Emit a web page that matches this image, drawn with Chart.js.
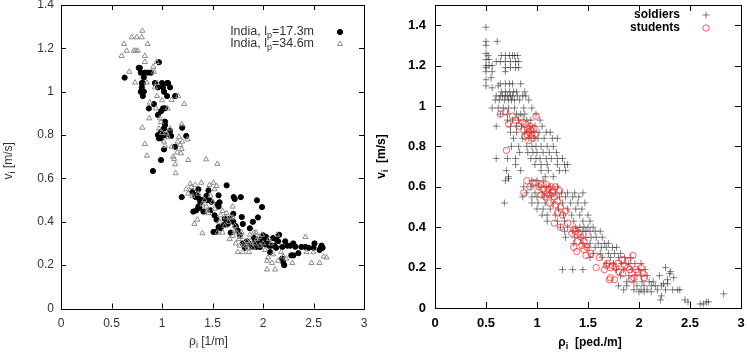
<!DOCTYPE html>
<html>
<head>
<meta charset="utf-8">
<script src="https://cdn.jsdelivr.net/npm/chart.js@4.4.1/dist/chart.umd.min.js"></script>
<style>
  body { margin: 0; background: #fff; }
  #wrap { position: relative; width: 747px; height: 354px; }
  canvas { position: absolute; top: 0; }
  #leftChart { left: 0; }
  #rightChart { left: 374px; }
</style>
</head>
<body>
<div id="wrap">
  <canvas id="leftChart" width="374" height="354"></canvas>
  <canvas id="rightChart" width="373" height="354"></canvas>
</div>
<script>
// tick labels
const leftXTicks = [0, 0.5, 1, 1.5, 2, 2.5, 3];
const leftYTicks = [0, 0.2, 0.4, 0.6, 0.8, 1, 1.2, 1.4];
const rightXTicks = [0, 0.5, 1, 1.5, 2, 2.5, 3];
const rightYTicks = [0, 0.2, 0.4, 0.6, 0.8, 1, 1.2, 1.4];

// left panel: India, lp=17.3m  [density 1/m, speed m/s]
const india17 = [
  [0.63,1.065],[0.97,1.136],[0.77,1.11],[0.78,1.11],[0.79,1.088],[0.83,1.088],[0.86,1.088],[0.89,1.088],
  [0.82,1.066],[0.80,1.04],[0.81,1.04],[0.80,1.02],[0.79,1.0],[0.82,1.0],[0.81,0.98],[0.93,1.04],
  [0.96,1.02],[1.01,1.02],[1.05,1.04],[1.06,1.04],[1.08,1.02],[1.02,1.0],[1.05,0.98],[1.13,0.98],
  [1.00,1.04],[0.92,0.943],[0.87,0.923],[0.96,0.893],[1.01,0.923],[1.03,0.923],[0.99,0.91],[1.03,0.862],
  [1.03,0.846],[1.02,0.831],[0.99,0.816],[0.98,0.80],[1.01,0.80],[1.03,0.80],[0.96,0.80],[0.97,0.785],
  [0.99,0.785],[1.08,0.82],[1.09,0.796],[1.20,0.834],[1.24,0.796],[1.13,0.746],[1.02,0.734],[0.99,0.685],
  [0.91,0.634],
  [1.195,0.514],[1.30,0.537],[1.33,0.515],[1.34,0.523],[1.35,0.52],[1.36,0.55],[1.37,0.505],[1.38,0.49],
  [1.40,0.50],[1.46,0.545],[1.47,0.499],[1.49,0.492],[1.56,0.522],[1.55,0.48],[1.57,0.49],[1.56,0.47],
  [1.64,0.568],[1.71,0.514],[1.72,0.505],[1.78,0.514],[1.31,0.447],[1.34,0.453],[1.41,0.447],[1.48,0.453],
  [1.36,0.47],[1.37,0.465],[1.62,0.414],[1.64,0.41],[1.67,0.414],[1.706,0.437],[1.706,0.40],[1.56,0.376],
  [1.58,0.37],[1.61,0.385],[1.51,0.353],[1.53,0.353],[1.79,0.422],[1.80,0.39],[1.90,0.40],[1.87,0.37],
  [1.94,0.499],[1.99,0.468],[1.95,0.42],[1.91,0.325],[1.92,0.31],[1.89,0.284],[1.93,0.284],[1.97,0.284],
  [2.0,0.338],[2.04,0.31],[2.02,0.297],[2.06,0.29],[2.08,0.29],[2.10,0.325],[2.13,0.32],[2.15,0.31],
  [2.16,0.34],[2.07,0.26],[2.13,0.28],[2.19,0.284],[2.19,0.23],[2.20,0.215],[2.21,0.20],[2.22,0.31],
  [2.27,0.29],[2.30,0.30],[2.32,0.285],[2.28,0.245],[2.30,0.245],[2.35,0.255],[2.38,0.284],[2.42,0.284],
  [2.51,0.30],[2.50,0.28],[2.56,0.27],[2.57,0.28],[2.59,0.28],[2.58,0.29],[1.80,0.30],[1.84,0.31],
  [1.86,0.30],[1.96,0.30],[1.98,0.32],[2.01,0.31],[2.03,0.33],[1.75,0.36],[1.73,0.38],[1.68,0.35],
  [1.45,0.50],[1.44,0.52],[1.54,0.41],[1.52,0.43],[1.65,0.39],[1.77,0.34],[1.82,0.28],[2.11,0.29],
  [2.24,0.29],[2.45,0.28]
];

// left panel: India, lp=34.6m
const india34 = [
  [0.805,1.281],[0.70,1.251],[0.75,1.251],[0.80,1.251],[0.624,1.22],[0.858,1.22],[0.65,1.189],[0.72,1.189],
  [0.74,1.189],[0.76,1.189],[0.60,1.165],[0.83,1.165],[0.676,1.092],[0.733,1.042],[0.85,1.042],[0.914,1.115],
  [0.947,1.137],[0.83,1.137],[0.92,1.092],[0.93,1.02],[0.95,1.04],[1.096,0.962],[1.16,0.98],[1.22,0.943],
  [0.94,0.923],[1.056,0.923],[0.874,0.877],[0.98,0.877],[0.805,0.834],[1.195,0.85],[1.046,0.808],[1.06,0.79],
  [1.168,0.792],[1.254,0.78],[1.155,0.77],[0.83,0.759],[1.096,0.746],[1.18,0.755],[1.195,0.735],[1.188,0.716],
  [0.85,0.705],[1.11,0.70],[1.12,0.69],[1.13,0.665],[1.26,0.685],[1.436,0.688],[1.548,0.667],[1.135,0.624],
  [0.99,0.86],[1.00,0.81],[0.97,0.83],[1.02,0.77],[1.15,0.72],[0.88,0.95],[0.95,0.98],[1.0,0.96],
  [1.08,0.83],[1.20,0.77],[1.03,0.75],
  [1.24,0.55],[1.29,0.56],[1.26,0.53],[1.28,0.575],[1.39,0.58],[1.51,0.58],[1.54,0.565],[1.32,0.39],
  [1.35,0.41],[1.40,0.48],[1.44,0.47],[1.46,0.44],[1.60,0.45],[1.58,0.43],[1.63,0.42],[1.70,0.47],
  [1.40,0.347],[1.55,0.35],[1.60,0.35],[1.67,0.32],[1.70,0.335],[1.75,0.26],[1.80,0.26],[1.84,0.31],
  [1.87,0.34],[1.86,0.30],[1.91,0.35],[1.96,0.33],[1.99,0.34],[2.04,0.22],[2.05,0.235],[2.04,0.18],
  [2.09,0.21],[2.12,0.18],[2.15,0.22],[2.23,0.23],[2.29,0.21],[2.42,0.33],[2.43,0.26],[2.48,0.21],
  [2.50,0.26],[2.56,0.21],[2.60,0.24],[2.63,0.235],[1.36,0.53],[1.42,0.50],[1.48,0.52],[1.50,0.49],
  [1.52,0.46],[1.45,0.45],[1.30,0.52],[1.62,0.38],[1.66,0.40],[1.72,0.38],[1.74,0.35],[1.76,0.32],
  [1.78,0.33],[1.81,0.30],[1.83,0.29],[1.85,0.28],[1.88,0.31],[1.90,0.28],[1.92,0.30],[1.94,0.32],
  [1.97,0.29],[2.00,0.30],[2.02,0.27],[2.06,0.32],[2.10,0.25],[2.14,0.34],[2.18,0.26],[2.20,0.24],
  [1.57,0.40],[1.64,0.44],[1.68,0.42],[1.72,0.36],[1.79,0.35],[1.86,0.26],[1.93,0.35],[2.08,0.30],
  [1.52,0.55],[1.47,0.57],[1.33,0.57],[1.70,0.42],[1.73,0.30],[1.77,0.29]
];

// right panel: soldiers  [density ped./m, speed m/s]
const soldiers = [
  [0.50,1.39],[0.50,1.32],[0.61,1.32],[0.50,1.30],[0.52,1.25],[0.50,1.26],[0.50,1.23],[0.50,1.20],
  [0.50,1.19],[0.50,1.17],[0.50,1.13],[0.50,1.10],[0.53,1.23],[0.53,1.20],[0.56,1.20],[0.56,1.17],
  [0.55,1.14],
  [0.65,1.25],[0.69,1.25],[0.73,1.25],[0.76,1.25],[0.78,1.25],[0.81,1.25],
  [0.60,1.22],[0.64,1.22],[0.69,1.22],[0.74,1.22],[0.79,1.22],[0.82,1.22],
  [0.69,1.19],[0.74,1.19],[0.79,1.19],[0.82,1.19],[0.69,1.17],
  [0.64,1.11],[0.69,1.11],[0.73,1.11],[0.76,1.11],[0.84,1.11],[0.56,1.09],[0.62,1.10],
  [0.65,1.07],[0.69,1.07],[0.73,1.07],[0.77,1.07],[0.80,1.07],[0.88,1.07],
  [0.60,1.05],[0.64,1.05],[0.66,1.05],[0.69,1.05],[0.71,1.05],[0.74,1.05],[0.76,1.05],[0.81,1.05],[0.86,1.05],[0.89,1.05],
  [0.59,1.03],[0.63,1.03],[0.68,1.03],[0.72,1.03],[0.75,1.03],[0.78,1.03],[0.83,1.03],[0.92,1.03],
  [0.56,0.99],[0.62,0.99],[0.67,0.99],[0.72,0.99],[0.78,0.99],[0.87,0.99],[0.95,0.99],
  [0.64,0.96],[0.71,0.96],[0.80,0.96],[0.84,0.96],[0.88,0.96],[0.99,0.96],
  [0.71,0.93],[0.76,0.93],[0.82,0.93],[0.90,0.93],[0.94,0.93],[1.03,0.93],
  [0.60,0.90],[0.74,0.90],[0.80,0.90],[0.85,0.90],[0.93,0.90],[0.98,0.90],[1.05,0.90],
  [0.74,0.87],[0.80,0.87],[0.88,0.87],[0.93,0.87],[0.97,0.87],[1.02,0.87],[1.09,0.87],[1.13,0.87],
  [0.77,0.84],[0.86,0.84],[0.92,0.84],[0.97,0.84],[1.01,0.84],[1.07,0.84],[1.15,0.84],[1.20,0.84],
  [0.75,0.80],[0.82,0.80],[0.90,0.80],[0.95,0.80],[0.99,0.80],[1.04,0.80],[1.10,0.80],[1.16,0.80],
  [0.83,0.77],[0.91,0.77],[0.96,0.77],[1.00,0.77],[1.06,0.77],[1.12,0.77],[1.19,0.77],
  [0.60,0.74],[0.71,0.74],[0.79,0.74],[0.94,0.74],[0.99,0.74],[1.03,0.74],[1.09,0.74],[1.14,0.74],[1.20,0.74],[1.25,0.74],
  [0.79,0.71],[0.98,0.71],[1.04,0.71],[1.10,0.71],[1.20,0.71],[1.27,0.71],[1.30,0.71],
  [0.70,0.68],[0.84,0.68],[1.04,0.68],[1.11,0.68],[1.22,0.68],[1.28,0.68],
  [0.72,0.65],[1.08,0.65],[1.16,0.65],
  [0.69,0.63],[0.72,0.64],[0.95,0.63],[1.00,0.63],[1.06,0.63],
  [0.87,0.60],[0.94,0.60],[1.02,0.60],[1.09,0.60],[1.13,0.60],[1.20,0.60],
  [0.90,0.57],[0.98,0.57],[1.05,0.57],[1.12,0.57],[1.18,0.57],[1.24,0.57],[1.30,0.57],[1.37,0.57],[1.45,0.57],
  [0.86,0.55],[0.95,0.55],[1.00,0.55],[1.07,0.55],[1.14,0.55],[1.22,0.55],[1.28,0.55],[1.35,0.55],[1.41,0.55],
  [0.68,0.52],[0.95,0.52],[1.01,0.52],[1.08,0.52],[1.16,0.52],[1.25,0.52],[1.33,0.52],[1.40,0.52],[1.47,0.52],
  [1.00,0.49],[1.06,0.49],[1.13,0.49],[1.21,0.49],[1.30,0.49],[1.38,0.49],[1.44,0.49],
  [1.05,0.46],[1.10,0.46],[1.18,0.46],[1.26,0.46],[1.34,0.46],[1.42,0.46],[1.50,0.46],
  [1.10,0.43],[1.20,0.43],[1.27,0.43],[1.36,0.43],[1.45,0.43],[1.52,0.43],
  [1.23,0.40],[1.30,0.40],[1.38,0.40],[1.42,0.40],[1.46,0.40],[1.50,0.40],[1.55,0.40],
  [1.27,0.38],[1.35,0.38],[1.40,0.38],[1.45,0.38],[1.48,0.38],[1.52,0.38],[1.57,0.38],[1.62,0.38],
  [1.28,0.35],[1.37,0.35],[1.43,0.35],[1.48,0.35],[1.53,0.35],[1.58,0.35],[1.64,0.35],
  [1.36,0.32],[1.45,0.32],[1.52,0.32],[1.60,0.32],[1.66,0.32],[1.70,0.32],
  [1.50,0.30],[1.57,0.30],[1.63,0.30],[1.68,0.30],[1.74,0.30],[1.78,0.30],
  [1.55,0.27],[1.62,0.27],[1.70,0.27],[1.76,0.27],[1.82,0.27],
  [1.52,0.25],[1.64,0.25],[1.72,0.25],[1.80,0.25],[1.86,0.25],[1.92,0.25],
  [1.68,0.22],[1.75,0.22],[1.83,0.22],[1.90,0.22],[1.96,0.22],[2.02,0.22],
  [1.25,0.19],[1.35,0.19],[1.45,0.19],[1.78,0.19],[1.85,0.19],[1.93,0.19],[2.00,0.19],[2.06,0.19],
  [1.82,0.16],[1.90,0.16],[1.96,0.16],[2.02,0.16],[2.08,0.16],[2.20,0.16],
  [1.88,0.13],[1.95,0.13],[2.03,0.13],[2.10,0.13],[2.14,0.13],
  [1.80,0.11],[1.88,0.11],[1.98,0.11],[2.05,0.11],[2.12,0.11],[2.16,0.11],[2.22,0.11],
  [1.85,0.09],[1.95,0.09],[2.02,0.09],[2.08,0.09],[2.18,0.09],[2.26,0.09],[2.33,0.09],[2.38,0.09],[2.40,0.09],
  [2.00,0.08],[2.05,0.08],[2.12,0.08],[2.30,0.17],[2.31,0.18],[2.26,0.20],[2.28,0.14],[2.34,0.15],
  [2.22,0.06],[2.21,0.04],[2.45,0.04],[2.48,0.03],[2.60,0.02],[2.63,0.02],[2.66,0.03],[2.68,0.03],
  [2.83,0.07],[2.24,0.12],[2.28,0.12]
];

// right panel: students
const students = [
  [0.64,0.96],[0.69,0.97],[0.72,0.91],[0.76,0.95],[0.79,0.93],[0.82,0.90],[0.84,0.94],[0.86,0.92],
  [0.87,0.88],[0.89,0.91],[0.90,0.86],[0.91,0.89],[0.92,0.87],[0.92,0.83],[0.94,0.88],[0.95,0.86],
  [0.96,0.84],[0.97,0.89],[0.99,0.95],[0.98,0.86],[0.70,0.78],[0.88,0.85],[0.93,0.90],
  [0.90,0.63],[0.87,0.57],[0.93,0.60],[0.96,0.62],[0.99,0.62],[1.02,0.60],[1.04,0.61],[1.06,0.59],
  [1.09,0.61],[1.11,0.59],[1.14,0.60],[1.16,0.58],[1.18,0.60],[1.22,0.58],[1.10,0.57],[1.15,0.57],
  [1.04,0.56],[1.08,0.55],[1.12,0.56],[1.17,0.55],[1.20,0.53],[1.12,0.52],[1.18,0.51],[1.23,0.50],
  [1.28,0.48],[1.20,0.47],[1.25,0.46],[1.17,0.42],[1.23,0.40],[1.30,0.42],[1.36,0.39],[1.34,0.37],
  [1.38,0.38],[1.41,0.37],[1.43,0.35],[1.40,0.33],[1.46,0.33],[1.44,0.31],[1.49,0.30],[1.39,0.28],
  [1.36,0.30],[1.48,0.26],[1.53,0.27],[1.46,0.29],[1.61,0.25],
  [1.69,0.22],[1.72,0.20],[1.66,0.19],[1.74,0.21],[1.77,0.20],[1.79,0.22],[1.84,0.24],[1.89,0.23],
  [1.94,0.26],[1.86,0.21],[1.91,0.19],[2.02,0.20],[1.99,0.18],[2.05,0.15],[1.95,0.15],[1.93,0.14],
  [1.76,0.14],[1.71,0.14],[1.72,0.15],[1.84,0.17],[1.89,0.20],[1.58,0.20],[1.80,0.18],[1.97,0.19],
  [2.04,0.17],[1.68,0.21]
];

const toPoints = arr => arr.map(([x, y]) => ({ x, y }));

// draw text with _{sub} parts
function drawRich(ctx, str, x, y, align, size, weight, family) {
  const parts = [];
  str.split(/(_\{[^}]*\})/).forEach(s => {
    if (!s) return;
    if (s.startsWith('_{')) parts.push({ t: s.slice(2, -1), sub: true });
    else parts.push({ t: s, sub: false });
  });
  const fontFor = p => `${weight} ${p.sub ? Math.round(size * 0.72) : size}px ${family}`;
  let total = 0;
  parts.forEach(p => { ctx.font = fontFor(p); p.w = ctx.measureText(p.t).width; total += p.w; });
  let cx = align === 'right' ? x - total : align === 'center' ? x - total / 2 : x;
  ctx.textAlign = 'left';
  ctx.textBaseline = 'middle';
  parts.forEach(p => {
    ctx.font = fontFor(p);
    ctx.fillText(p.t, cx, p.sub ? y + size * 0.3 : y);
    cx += p.w;
  });
}

// gnuplot-like frame with inward ticks on all four sides
const frameTicks = {
  id: 'frameTicks',
  afterDatasetsDraw(chart, args, opts) {
    const { ctx, chartArea: a, scales: { x, y } } = chart;
    const L = opts.len;
    ctx.save();
    ctx.strokeStyle = '#000';
    ctx.lineWidth = 1;
    ctx.beginPath();
    x.ticks.forEach(t => {
      const px = Math.round(x.getPixelForValue(t.value)) + 0.5;
      ctx.moveTo(px, a.bottom); ctx.lineTo(px, a.bottom - L);
      ctx.moveTo(px, a.top); ctx.lineTo(px, a.top + L);
    });
    y.ticks.forEach(t => {
      const py = Math.round(y.getPixelForValue(t.value)) + 0.5;
      ctx.moveTo(a.left, py); ctx.lineTo(a.left + L, py);
      ctx.moveTo(a.right, py); ctx.lineTo(a.right - L, py);
    });
    ctx.stroke();
    ctx.strokeRect(Math.round(a.left) + 0.5, Math.round(a.top) + 0.5,
      Math.round(a.right - a.left), Math.round(a.bottom - a.top));
    ctx.restore();
  }
};

// axis titles + key
const textLayer = {
  id: 'textLayer',
  afterDraw(chart, args, o) {
    const { ctx, chartArea: a } = chart;
    ctx.save();
    ctx.fillStyle = o.color;
    drawRich(ctx, o.xTitle, (a.left + a.right) / 2 + o.xTitleDx, o.xTitleY, 'center', o.size, o.weight, o.family);
    ctx.save();
    ctx.translate(o.yTitleX, (a.top + a.bottom) / 2 + o.yTitleDy);
    ctx.rotate(-Math.PI / 2);
    drawRich(ctx, o.yTitle, 0, 0, 'center', o.size, o.weight, o.family);
    ctx.restore();
    chart.data.datasets.forEach((ds, i) => {
      const ly = o.keyY + i * o.keyGap;
      ctx.fillStyle = o.color;
      drawRich(ctx, o.keyLabels[i], o.keyTextX, ly, 'right', o.keySize, o.weight, o.family);
      ctx.strokeStyle = ds.borderColor;
      ctx.fillStyle = ds.backgroundColor;
      ctx.lineWidth = ds.borderWidth;
      Chart.helpers.drawPoint(ctx, {
        pointStyle: ds.pointStyle, radius: ds.pointRadius, rotation: 0,
        borderWidth: ds.borderWidth
      }, o.keyMarkX, ly);
    });
    ctx.restore();
  }
};

function axis(ticksArr, min, max, font, color, pad, size, vertical) {
  return {
    type: 'linear', min, max,
    afterBuildTicks: s => { s.ticks = ticksArr.map(v => ({ value: v })); },
    afterFit: s => {
      if (vertical) { s.width = size; s.paddingTop = 0; s.paddingBottom = 0; }
      else { s.height = size; s.paddingLeft = 0; s.paddingRight = 0; }
    },
    ticks: { callback: v => String(v), font, color, padding: pad, autoSkip: false, maxRotation: 0 },
    grid: { display: false, drawTicks: false },
    border: { display: false }
  };
}

const leftFont = { family: 'Liberation Sans', size: 12, weight: 'normal' };
const rightFont = { family: 'Liberation Sans', size: 13, weight: 'bold' };

new Chart(document.getElementById('leftChart'), {
  type: 'scatter',
  data: {
    datasets: [
      {
        data: toPoints(india17), pointStyle: 'circle', pointRadius: 2.6,
        backgroundColor: '#000', borderColor: '#000', borderWidth: 1, order: 1
      },
      {
        data: toPoints(india34), pointStyle: 'triangle', pointRadius: 3,
        backgroundColor: 'rgba(255,255,255,0)', borderColor: '#8c8c8c', borderWidth: 1, order: 0
      }
    ]
  },
  options: {
    responsive: false, animation: false, devicePixelRatio: 1,
    layout: { padding: { top: 5, right: 10, bottom: 0, left: 0 } },
    scales: {
      x: axis(leftXTicks, 0, 3, leftFont, '#333', 8, 45.5, false),
      y: axis(leftYTicks, 0, 1.4, leftFont, '#333', 7, 61, true)
    },
    plugins: {
      legend: { display: false }, tooltip: { enabled: false },
      frameTicks: { len: 5 },
      textLayer: {
        color: '#333', size: 12, weight: 'normal', family: 'Liberation Sans',
        xTitle: 'ρ_{i} [1/m]', xTitleDx: -4, xTitleY: 342,
        yTitle: 'v_{i} [m/s]', yTitleX: 9, yTitleDy: 4,
        keyLabels: ['India, l_{p}=17.3m', 'India, l_{p}=34.6m'],
        keyTextX: 314, keyMarkX: 340, keyY: 32, keyGap: 12, keySize: 12.5
      }
    }
  },
  plugins: [frameTicks, textLayer]
});

new Chart(document.getElementById('rightChart'), {
  type: 'scatter',
  data: {
    datasets: [
      {
        data: toPoints(soldiers), pointStyle: 'cross', pointRadius: 3.5,
        backgroundColor: 'rgba(0,0,0,0)', borderColor: 'rgba(30,30,30,0.55)', borderWidth: 1, order: 1
      },
      {
        data: toPoints(students), pointStyle: 'circle', pointRadius: 3.2,
        backgroundColor: 'rgba(255,255,255,0)', borderColor: 'rgba(255,30,30,0.7)', borderWidth: 1, order: 0
      }
    ]
  },
  options: {
    responsive: false, animation: false, devicePixelRatio: 1,
    layout: { padding: { top: 4, right: 6, bottom: 0, left: 0 } },
    scales: {
      x: axis(rightXTicks, 0, 3, rightFont, '#000', 8, 46, false),
      y: axis(rightYTicks, 0, 1.5, rightFont, '#000', 9, 61, true)
    },
    plugins: {
      legend: { display: false }, tooltip: { enabled: false },
      frameTicks: { len: 6 },
      textLayer: {
        color: '#000', size: 12, weight: 'bold', family: 'Liberation Sans',
        xTitle: 'ρ_{i}  [ped./m]', xTitleDx: 2, xTitleY: 343,
        yTitle: 'v_{i}  [m/s]', yTitleX: 8, yTitleDy: 0,
        keyLabels: ['soldiers', 'students'],
        keyTextX: 306, keyMarkX: 332, keyY: 15, keyGap: 13, keySize: 12
      }
    }
  },
  plugins: [frameTicks, textLayer]
});
</script>
</body>
</html>
